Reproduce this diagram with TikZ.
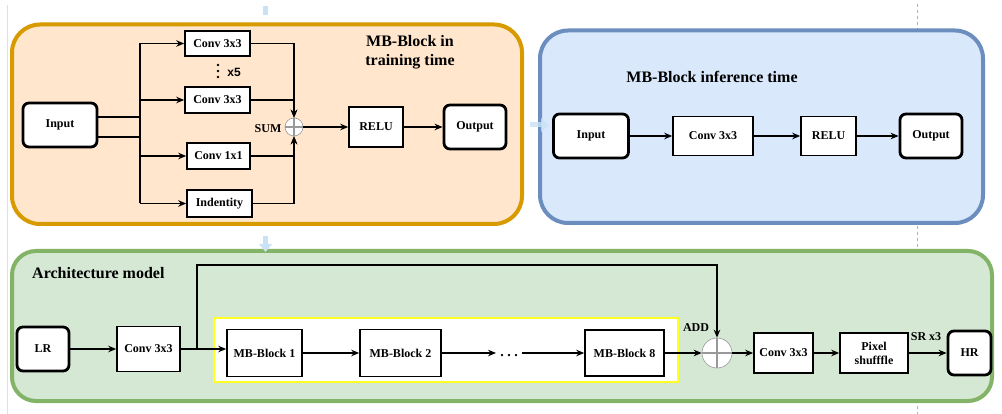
\documentclass[tikz,border=0pt]{standalone}
\usepackage{fontspec}
\setmainfont{Liberation Serif}
\newfontfamily\sansbold{Liberation Sans}
\usetikzlibrary{arrows.meta,positioning}
\definecolor{orfill}{HTML}{FFE6CC}
\definecolor{ordraw}{HTML}{D79B00}
\definecolor{blfill}{HTML}{DAE8FC}
\definecolor{bldraw}{HTML}{6C8EBF}
\definecolor{grfill}{HTML}{D5E8D4}
\definecolor{grdraw}{HTML}{82B366}
\definecolor{ghost}{HTML}{C9E2F6}
\definecolor{frameyel}{HTML}{FFFF22}
\newcommand{\lblfont}{\fontsize{12}{14}\selectfont\bfseries}
\newcommand{\ttlfont}{\fontsize{16}{19}\selectfont\bfseries}
\tikzset{
  panel/.style={line width=4pt, rounded corners=28pt},
  blk/.style={draw, line width=1.6pt, fill=white, font=\lblfont, align=center, inner sep=0pt},
  term/.style={blk, rounded corners=6pt, line width=2.8pt},
  summer/.style={circle, draw=black!40, line width=0.6pt, fill=white, inner sep=0pt,
    path picture={\draw[line width=1.7pt]
      (path picture bounding box.north) -- (path picture bounding box.south)
      (path picture bounding box.west) -- (path picture bounding box.east);}},
  flow/.style={-{Stealth[length=8pt,width=6.5pt]}, line width=1.6pt},
  wire/.style={line width=1.6pt},
  tag/.style={font=\lblfont, inner sep=0pt},
}

\begin{document}
\begin{tikzpicture}[x=1pt, y=-1pt]
\useasboundingbox (0,0) rectangle (1002,414);
\fill[white] (0,0) rectangle (1002,414);

% page edges left over from the drawing canvas
\draw[black!12, line width=0.6pt] (7,5) -- (7,414);
\draw[black!30, line width=0.6pt, dashed] (917,4) -- (917,414);

% the three panels
\draw[panel, draw=ordraw, fill=orfill] (12,24.5) rectangle (522,224);
\draw[panel, draw=bldraw, fill=blfill] (540,30.5) rectangle (983,223);
\draw[panel, draw=grdraw, fill=grfill, rounded corners=24pt] (12,251) rectangle (992,401);

% faint connectors half hidden behind the panels
\fill[ghost] (263,6) rectangle (268,15);
\fill[ghost] (263,236) rectangle (268,244);
\fill[ghost] (259,244) -- (272,244) -- (265.5,252) -- cycle;
\fill[ghost, opacity=0.8] (530,122.5) rectangle (543,127.5);
\fill[ghost, opacity=0.8] (541,118) -- (549,125) -- (541,132) -- cycle;

% MB-Block in training time: parallel branches summed, then RELU
\begin{scope}
  \node[tag, font=\ttlfont, align=center] (ttltrain) at (410,52) {MB-Block in\\training time};
  \node[term, minimum width=74pt, minimum height=44pt] (in1) at (60,125) {Input};
  \node[blk, minimum width=65pt, minimum height=25pt] (c1) at (217.5,43.5) {Conv 3x3};
  \node[blk, minimum width=65pt, minimum height=26pt] (c2) at (217.5,100) {Conv 3x3};
  \node[blk, minimum width=63pt, minimum height=26pt] (c3) at (218.5,156) {Conv 1x1};
  \node[blk, minimum width=65pt, minimum height=27pt] (idt) at (219.5,203.5) {Indentity};
  \node[summer, minimum size=18pt] (sum) at (294,127) {};
  \node[tag] (sumlbl) at (268,129) {SUM};
  \node[blk, minimum width=54pt, minimum height=40pt] (relu1) at (376,127) {RELU};
  \node[term, minimum width=62pt, minimum height=44pt] (out1) at (475,127) {Output};
  \foreach \d in {65,71,77} \fill (218,\d) circle (1.4pt);
  \node[font=\sansbold\fontsize{12}{14}\selectfont\bfseries, inner sep=0pt] (rep) at (234,72) {x5};
  \coordinate (busT) at (140,43.5);
  \coordinate (busB) at (140,203.5);
  \draw[wire] (busT) -- (busB);
  \draw[wire] ([yshift=8pt]in1.east) -- ([yshift=8pt]in1.east -| busT);
  \draw[wire] ([yshift=-12pt]in1.east) -- ([yshift=-12pt]in1.east -| busT);
  \foreach \b in {c1,c2,c3,idt}
    \draw[flow] (\b.west -| busT) -- (\b.west);
  \draw[flow] (c1) -| (sum);
  \draw[flow] (c2) -| (sum);
  \draw[flow] (c3) -| (sum);
  \draw[flow] (idt) -| (sum);
  \draw[flow] (sum) -- (relu1);
  \draw[flow] (relu1) -- (out1);
\end{scope}

% MB-Block inference time: one Conv 3x3 and RELU
\begin{scope}
  \node[tag, font=\ttlfont] (ttlinf) at (712,77) {MB-Block inference time};
  \node[term, minimum width=75pt, minimum height=44pt] (in2) at (591,136) {Input};
  \node[blk, minimum width=80pt, minimum height=39pt] (c4) at (713,136) {Conv 3x3};
  \node[blk, minimum width=55pt, minimum height=39pt] (relu2) at (828.5,136) {RELU};
  \node[term, minimum width=62pt, minimum height=44pt] (out2) at (931,136) {Output};
  \draw[flow] (in2) -- (c4);
  \draw[flow] (c4) -- (relu2);
  \draw[flow] (relu2) -- (out2);
\end{scope}

% Architecture model: LR -> conv -> 8 MB-Blocks -> add skip -> conv -> shuffle -> HR
\begin{scope}
  \node[tag, font=\ttlfont, anchor=west] (ttlarch) at (32,273) {Architecture model};
  \draw[frameyel, line width=2pt, fill=white] (214,318) rectangle (678,382);
  \node[term, minimum width=52pt, minimum height=44pt] (lr) at (43,349) {LR};
  \node[blk, minimum width=63pt, minimum height=45pt] (c5) at (148.5,349) {Conv 3x3};
  \node[blk, minimum width=75pt, minimum height=47pt] (mb1) at (264.5,353) {MB-Block 1};
  \node[blk, minimum width=81pt, minimum height=47pt] (mb2) at (400.5,353) {MB-Block 2};
  \node[tag, font=\fontsize{14}{16}\selectfont\bfseries, inner xsep=4pt, text height=7pt, text depth=0pt]
    (more) at (509,353) {.\hspace{3.5pt}.\hspace{3.5pt}.};
  \node[blk, minimum width=79pt, minimum height=46pt] (mb8) at (624.5,353) {MB-Block 8};
  \node[summer, minimum size=30pt] (add) at (717,353) {};
  \node[tag] (addlbl) at (696,328) {ADD};
  \node[blk, minimum width=59pt, minimum height=40pt] (c6) at (783.5,353) {Conv 3x3};
  \node[blk, minimum width=68pt, minimum height=40pt] (pix) at (874,353) {Pixel\\shufffle};
  \node[term, minimum width=43pt, minimum height=44pt] (hr) at (969.5,353) {HR};
  \node[tag] (srlbl) at (926,337) {SR x3};
  \coordinate (skiptop) at (197,265);
  \draw[flow] (lr) -- (c5);
  \draw[flow] (c5.east) -- (c5.east -| mb1.west);
  \draw[flow] (c5.east -| skiptop) -- (skiptop) -| (add);
  \draw[flow] (mb1) -- (mb2);
  \draw[flow] (mb2) -- (more);
  \draw[flow] (more) -- (mb8);
  \draw[flow] (mb8) -- (add);
  \draw[flow] (add) -- (c6);
  \draw[flow] (c6) -- (pix);
  \draw[flow] (pix) -- (hr);
\end{scope}

\end{tikzpicture}
\end{document}
